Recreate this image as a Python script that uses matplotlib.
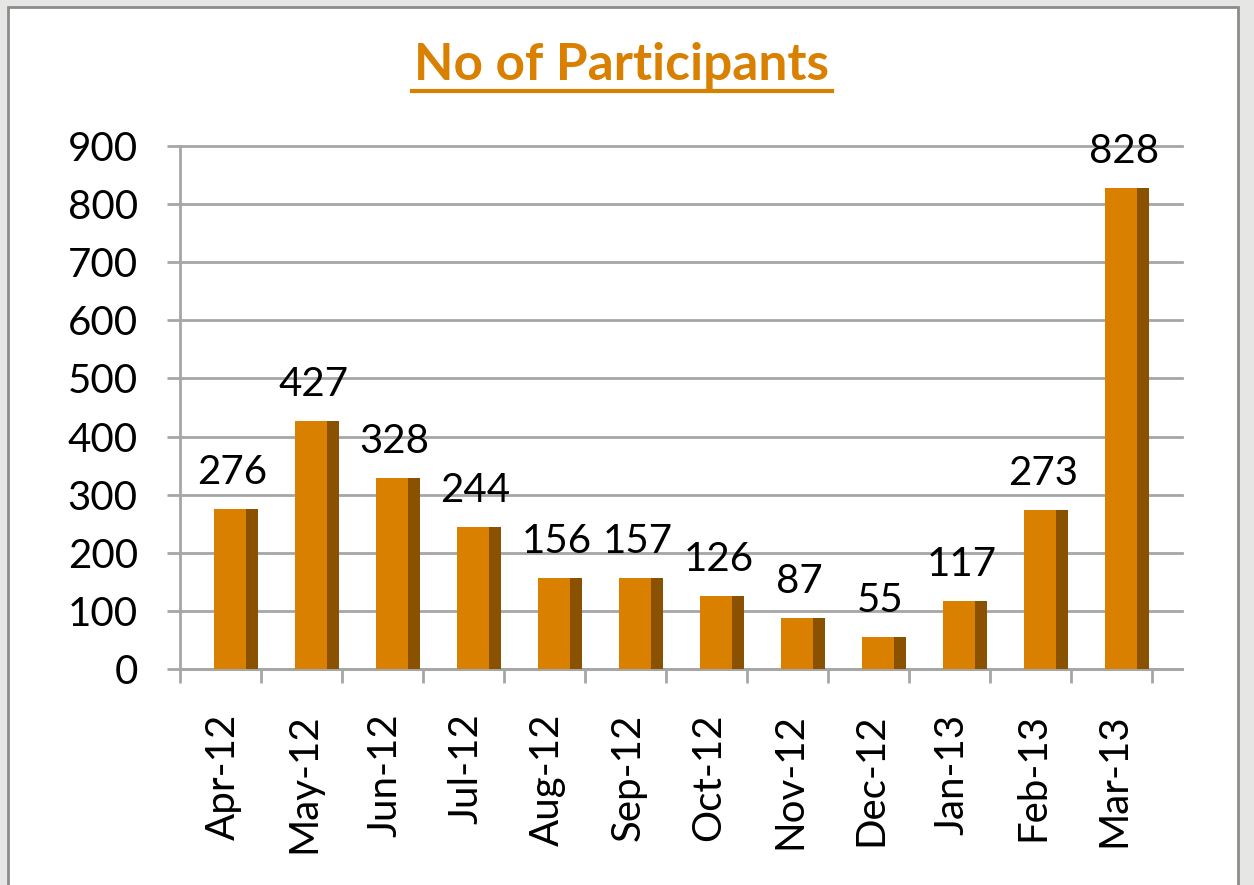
import numpy as np
import matplotlib
matplotlib.use("Agg")
import matplotlib.pyplot as plt
import matplotlib.patches as patches
from matplotlib.lines import Line2D

months = ["Apr-12", "May-12", "Jun-12", "Jul-12", "Aug-12", "Sep-12",
          "Oct-12", "Nov-12", "Dec-12", "Jan-13", "Feb-13", "Mar-13"]
participants = [276, 427, 328, 244, 156, 157, 126, 87, 55, 117, 273, 828]
yticks = [0, 100, 200, 300, 400, 500, 600, 700, 800, 900]

plt.rcParams['font.family'] = ['Lato', 'DejaVu Sans']

W, H = 1254, 885
fig = plt.figure(figsize=(W / 100, H / 100), dpi=100)
fig.patch.set_facecolor('#e6e6e4')

# white chart panel with grey frame (behind the axes)
panel = patches.Rectangle((8 / W, -0.05), (1238 - 8) / W, 1.05 - 7 / H,
                          transform=fig.transFigure, facecolor='white',
                          edgecolor='#8c8c8c', linewidth=2, zorder=-10)
fig.patches.append(panel)

orange = '#d98000'
dark = '#8a5200'
grid_c = '#a6a6a6'

ax = fig.add_axes([180 / W, 1 - 669 / H, (1182 - 180) / W, (669 - 146) / H])
ax.set_facecolor('none')

x = np.arange(len(months))
vals = np.array(participants)

# 3D-looking columns: front face + darker side
ax.bar(x + 0.42, vals, width=0.395, align='edge', color=orange,
       edgecolor='none', zorder=3)
ax.bar(x + 0.815, vals, width=0.145, align='edge', color=dark,
       edgecolor='none', zorder=3)

for xi, v in zip(x, vals):
    ax.annotate(str(v), (xi + 0.65, v), xytext=(0, 18),
                textcoords='offset points', ha='center', va='baseline',
                fontsize=29, color='black', zorder=4)

ax.set_xlim(0, (1182 - 180) / 81)
ax.set_ylim(0, 900)
ax.set_yticks(yticks)
ax.yaxis.grid(True, color=grid_c, linewidth=2, zorder=1)
for gl in ax.get_ygridlines():
    gl.set_clip_on(False)

ax.set_xticks(np.arange(0, 13))
ax.set_xticklabels([])
ax.set_xticks(x + 0.53, minor=True)
ax.set_xticklabels(months, minor=True, rotation=90, va='top', ha='center',
                   fontsize=29)
ax.tick_params(axis='x', which='major', length=10, width=2, color=grid_c)
ax.tick_params(axis='x', which='minor', length=0, pad=32)
ax.tick_params(axis='y', length=9.4, width=2, color=grid_c, pad=21,
               labelsize=29)

for s in ['top', 'right']:
    ax.spines[s].set_visible(False)
ax.spines['left'].set_color(grid_c)
ax.spines['left'].set_linewidth(2)
ax.spines['bottom'].set_color(grid_c)
ax.spines['bottom'].set_linewidth(2)

# title with underline
fig.text(622 / W, 1 - 80 / H, "No of Participants", ha='center',
         va='baseline', fontsize=37, fontweight='bold', color=orange)
fig.add_artist(Line2D([412 / W, 832 / W], [1 - 91 / H, 1 - 91 / H],
                      transform=fig.transFigure, color=orange, linewidth=3))

fig.savefig("out.png", dpi=100, facecolor=fig.get_facecolor())
